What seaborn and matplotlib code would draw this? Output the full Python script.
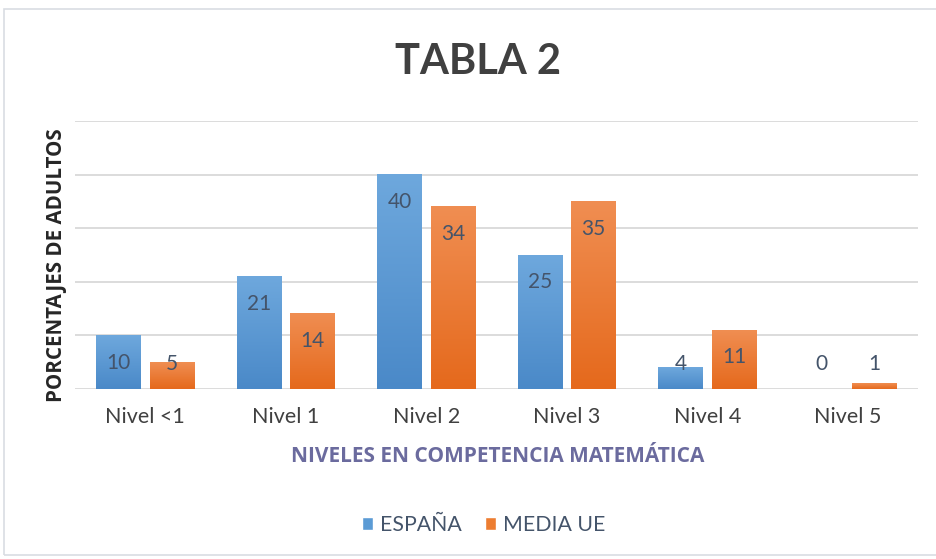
import matplotlib
matplotlib.use("Agg")
import matplotlib.pyplot as plt
import matplotlib.patches as mpatches
import numpy as np
import pandas as pd
import seaborn as sns
from matplotlib.colors import LinearSegmentedColormap

categories = ["Nivel <1", "Nivel 1", "Nivel 2", "Nivel 3", "Nivel 4", "Nivel 5"]
series_names = ["ESPAÑA", "MEDIA UE"]
espana = [10, 21, 40, 25, 4, 0]
media_ue = [5, 14, 34, 35, 11, 1]

title = "TABLA 2"
ylabel = "PORCENTAJES DE ADULTOS"
xlabel = "NIVELES EN COMPETENCIA MATEMÁTICA"

df = pd.DataFrame({
    "nivel": categories * 2,
    "serie": [series_names[0]] * len(categories) + [series_names[1]] * len(categories),
    "valor": espana + media_ue,
})

sns.set_theme(style="white")
plt.rcParams["font.family"] = ["Lato", "DejaVu Sans"]

fig = plt.figure(figsize=(9.37, 5.59), dpi=100)
ax = fig.add_axes([75 / 937, 1 - 389 / 559, (918 - 75) / 937, (389 - 121) / 559])

blue_mid = "#5B9BD5"
orange_mid = "#ED7D31"
sns.barplot(data=df, x="nivel", y="valor", hue="serie", order=categories,
            hue_order=series_names, palette=[blue_mid, orange_mid],
            width=0.76, gap=0.17, ax=ax, legend=False, saturation=1)

cmaps = {
    0: LinearSegmentedColormap.from_list("b", ["#4A89C8", "#6EA8DD"]),
    1: LinearSegmentedColormap.from_list("o", ["#E5691C", "#F08E52"]),
}
grad = np.linspace(0, 1, 256).reshape(-1, 1)
bars = [p for p in ax.patches if isinstance(p, mpatches.Rectangle)]
n = len(categories)
for i, p in enumerate(bars[:2 * n]):
    s = i // n
    x0, y0 = p.get_x(), p.get_y()
    w, h = p.get_width(), p.get_height()
    if h > 0:
        ax.imshow(grad, extent=[x0, x0 + w, y0, y0 + h], origin="lower",
                  aspect="auto", cmap=cmaps[s], zorder=2, interpolation="bicubic")
    p.set_alpha(0)

# data labels
for i, p in enumerate(bars[:2 * n]):
    v = p.get_height()
    xc = p.get_x() + p.get_width() / 2
    ylab = max(v - 5.1, 4.6)
    ax.text(xc, ylab, f"{int(round(v))}", ha="center", va="center",
            fontsize=15, color="#44546A", zorder=5)

ax.set_xlim(-0.5, n - 0.5)
ax.set_ylim(0, 50)
ax.set_yticks(np.arange(0, 51, 10))
ax.set_yticklabels([])
ax.yaxis.grid(True, color="#D9D9D9", linewidth=1.3)
ax.set_axisbelow(True)
for sp in ax.spines.values():
    sp.set_visible(False)
ax.tick_params(axis="both", length=0)
ax.tick_params(axis="x", labelsize=15.5, labelcolor="#404040", pad=13)
ax.set_xlabel("")
ax.set_ylabel("")

fig.text(498 / 937, 1 - 456 / 559, xlabel, ha="center", va="center", fontsize=15,
         fontweight="bold", color="#6B6B9E", family=["Open Sans", "DejaVu Sans"])
fig.text(57 / 937, 1 - 265 / 559, ylabel, ha="center", va="center", fontsize=14.8,
         rotation=90, fontweight="bold", color="#262626",
         family=["Open Sans", "DejaVu Sans"])

fig.text(478 / 937, 1 - 62 / 559, title, ha="center", va="center", fontsize=30,
         fontweight="bold", color="#404040")

handles = [mpatches.Patch(facecolor=blue_mid, label=series_names[0]),
           mpatches.Patch(facecolor=orange_mid, label=series_names[1])]
leg = fig.legend(handles=handles, loc="center", bbox_to_anchor=(484 / 937, 1 - 525 / 559),
                 ncol=2, frameon=False, fontsize=15.3, handlelength=0.5,
                 handleheight=0.5, handletextpad=0.35, columnspacing=1.1)
for t in leg.get_texts():
    t.set_color("#44546A")

fig.patches.append(mpatches.Rectangle((4 / 937, 4 / 559), 1.1, 1 - 13 / 559,
                                      transform=fig.transFigure, fill=False,
                                      edgecolor="#D9DDE3", linewidth=1.2))

fig.savefig("out.png", dpi=100)
